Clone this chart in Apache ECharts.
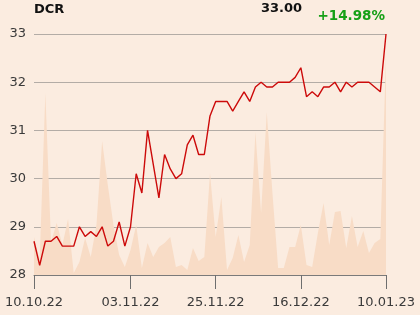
<!DOCTYPE html>
<html>
<head>
<meta charset="utf-8">
<script src="https://cdn.jsdelivr.net/npm/echarts@6/dist/echarts.min.js"></script>
<style>
html,body{margin:0;padding:0;background:#fbece0;}
#c{width:420px;height:315px;}
</style>
</head>
<body>
<div id="c"></div>
<script>
const dates = ["10.10.22","11.10.22","12.10.22","13.10.22","14.10.22","17.10.22","18.10.22","19.10.22","20.10.22","21.10.22",
"24.10.22","25.10.22","26.10.22","27.10.22","28.10.22","31.10.22","02.11.22","03.11.22","04.11.22","07.11.22",
"08.11.22","09.11.22","10.11.22","11.11.22","14.11.22","15.11.22","16.11.22","17.11.22","18.11.22","21.11.22",
"22.11.22","23.11.22","25.11.22","28.11.22","29.11.22","30.11.22","01.12.22","02.12.22","05.12.22","06.12.22",
"07.12.22","08.12.22","09.12.22","12.12.22","13.12.22","14.12.22","15.12.22","16.12.22","19.12.22","20.12.22",
"21.12.22","22.12.22","23.12.22","27.12.22","28.12.22","29.12.22","30.12.22","03.01.23","04.01.23","05.01.23",
"06.01.23","09.01.23","10.01.23"];
const prices = [28.7,28.2,28.7,28.7,28.8,28.6,28.6,28.6,29.0,28.8,
28.9,28.8,29.0,28.6,28.7,29.1,28.6,29.0,30.1,29.7,
31.0,30.3,29.6,30.5,30.2,30.0,30.1,30.7,30.9,30.5,
30.5,31.3,31.6,31.6,31.6,31.4,31.6,31.8,31.6,31.9,
32.0,31.9,31.9,32.0,32.0,32.0,32.1,32.3,31.7,31.8,
31.7,31.9,31.9,32.0,31.8,32.0,31.9,32.0,32.0,32.0,
31.9,31.8,33.0];
const volumes = [38,15,182,33,52,30,56,2,13,37,
18,50,134,90,50,20,8,25,50,7,
32,18,28,32,38,8,10,5,27,14,
18,102,38,78,5,17,40,13,30,143,
62,163,82,7,7,28,28,50,10,8,
42,72,30,63,64,27,59,28,44,22,
32,36,220];
const labelIdx = [0,17,32,47,62];
const yTicks = {min:28, max:33, interval:1};
const ticker = "DCR", lastPrice = "33.00", change = "+14.98%";

const chart = echarts.init(document.getElementById('c'), null, {renderer:'canvas'});
const showAt = (i) => labelIdx.indexOf(i) >= 0;
chart.setOption({
  backgroundColor:'#fbece0',
  animation:false,
  textStyle:{fontFamily:'DejaVu Sans'},
  grid:{left:34,right:34,top:34,bottom:40,containLabel:false},
  xAxis:{
    type:'category', data:dates, boundaryGap:false,
    axisLine:{show:true,lineStyle:{color:'#7a7a7a',width:1}},
    axisTick:{show:true,interval:showAt,length:14,lineStyle:{color:'#6e6e6e'}},
    axisLabel:{interval:showAt,showMinLabel:true,showMaxLabel:true,color:'#3a3a3a',fontSize:13,margin:21,fontFamily:'DejaVu Sans'},
    splitLine:{show:false}
  },
  yAxis:[{
    type:'value', min:yTicks.min, max:yTicks.max, interval:yTicks.interval,
    axisLine:{show:false}, axisTick:{show:false},
    axisLabel:{color:'#3a3a3a',fontSize:13,margin:8,fontFamily:'DejaVu Sans'},
    splitLine:{show:true,lineStyle:{color:'#b3aca6',width:1}}
  },{
    type:'value', min:0, max:241, show:false, splitLine:{show:false}
  }],
  series:[{
    type:'line', data:volumes, yAxisIndex:1, symbol:'none', z:1,
    lineStyle:{width:0,opacity:0},
    areaStyle:{color:'#f8dcc6',opacity:1}
  },{
    type:'line', data:prices, yAxisIndex:0, symbol:'none', z:3,
    lineStyle:{color:'#cc0a0a',width:1.4}
  }],
  graphic:[
    {type:'text',left:34,top:3,style:{text:ticker,font:'bold 13px "DejaVu Sans"',fill:'#111'}},
    {type:'text',right:118,top:2,style:{text:lastPrice,font:'bold 13px "DejaVu Sans"',fill:'#111'}},
    {type:'text',right:35,top:9,style:{text:change,font:'bold 13.5px "DejaVu Sans"',fill:'#16a016'}}
  ]
});
</script>
</body>
</html>
